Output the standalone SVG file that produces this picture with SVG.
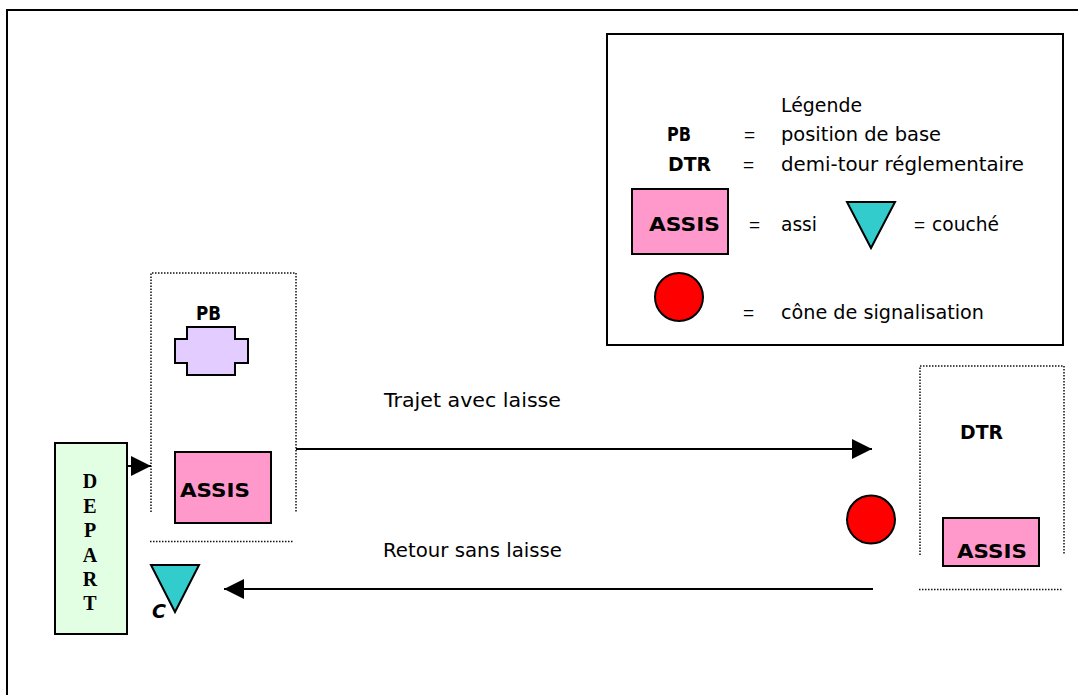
<svg xmlns="http://www.w3.org/2000/svg" width="1078" height="695" viewBox="0 0 1078 695">
<defs>
<marker id="ah" markerUnits="userSpaceOnUse" markerWidth="20" markerHeight="20" refX="20" refY="10" orient="auto"><path d="M0,0 L20,10 L0,20 Z" fill="#000"/></marker>
</defs>
<style>
.c{font-family:"DejaVu Sans",sans-serif;font-size:19px;fill:#000}
.b{font-family:"DejaVu Sans",sans-serif;font-weight:bold;font-size:19px;fill:#000}
.e{font-family:"Liberation Sans",sans-serif;font-size:19px;fill:#000}
.d{font-family:"Liberation Serif",serif;font-weight:bold;font-size:20px;fill:#000;text-anchor:middle}
.s{stroke:#000;stroke-width:2}
.p{fill:#ff99cc}.g{fill:#33cccc}.r{fill:#ff0000}
.dot{fill:none;stroke:#111;stroke-width:1.500;stroke-dasharray:1.500 1.500}
.ln{fill:none;stroke:#000;stroke-width:2}
</style>
<rect width="1078" height="695" fill="#fff"/>
<rect id="frame" x="7" y="10" width="1090" height="710" fill="none" stroke="#000" stroke-width="2"/>
<g id="legend">
<rect x="607" y="34" width="456" height="311" fill="#fff" class="s"/>
<text class="c" x="781" y="112" textLength="81" lengthAdjust="spacingAndGlyphs">Légende</text>
<text class="b" x="667" y="141" textLength="24" lengthAdjust="spacingAndGlyphs">PB</text><text class="e" x="744" y="141">=</text><text class="c" x="781" y="141" textLength="160" lengthAdjust="spacingAndGlyphs">position de base</text>
<text class="b" x="668" y="171" textLength="43" lengthAdjust="spacingAndGlyphs">DTR</text><text class="e" x="743" y="171">=</text><text class="c" x="781" y="171" textLength="243" lengthAdjust="spacingAndGlyphs">demi-tour réglementaire</text>
<rect x="632" y="189" width="96" height="65" class="p s"/>
<text class="b" x="649" y="231" textLength="71" lengthAdjust="spacingAndGlyphs">ASSIS</text><text class="e" x="749" y="231">=</text><text class="c" x="781" y="231" textLength="36" lengthAdjust="spacingAndGlyphs">assi</text>
<path d="M847,202 L895,202 L871,248 Z" class="g s"/>
<text y="231"><tspan class="e" x="914">=</tspan> <tspan class="c" x="932" textLength="67" lengthAdjust="spacingAndGlyphs">couché</tspan></text>
<circle cx="679" cy="297" r="24" class="r s"/>
<text class="e" x="743" y="319">=</text><text class="c" x="781" y="319" textLength="203" lengthAdjust="spacingAndGlyphs">cône de signalisation</text>
</g>
<g id="depart">
<rect x="55" y="443" width="72" height="191" fill="#e3ffe3" class="s"/>
<text class="d" x="90" y="488">D</text><text class="d" x="90" y="513">E</text><text class="d" x="90" y="537">P</text><text class="d" x="90" y="562">A</text><text class="d" x="90" y="586">R</text><text class="d" x="90" y="610">T</text>
</g>
<g id="zone-pb">
<path d="M151,512 V273 H296 V513 M150,541.500 H294" class="dot"/>
<text class="b" x="196" y="320" textLength="25" lengthAdjust="spacingAndGlyphs">PB</text>
<path d="M187,327 H235 V339 H248 V363 H235 V375 H187 V363 H175 V339 H187 Z" fill="#e3ccff" class="s"/>
<rect x="175" y="452" width="96" height="71" class="p s"/>
<text class="b" x="180" y="497" textLength="70" lengthAdjust="spacingAndGlyphs">ASSIS</text>
</g>
<g id="couche">
<path d="M151,565 L199,565 L175,612 Z" class="g s"/>
<text class="b" x="152" y="618" font-style="italic">C</text>
</g>
<g id="zone-dtr">
<path d="M920,555 V366 H1064 V555 M919,589.500 H1063" class="dot"/>
<text class="b" x="960" y="439" textLength="43" lengthAdjust="spacingAndGlyphs">DTR</text>
<rect x="943" y="518" width="96" height="48" class="p s"/>
<text class="b" x="957" y="558" textLength="70" lengthAdjust="spacingAndGlyphs">ASSIS</text>
</g>
<g id="cone"><circle cx="871" cy="519.500" r="24" class="r s"/></g>
<g id="connectors">
<path d="M127,466 H151" class="ln" marker-end="url(#ah)"/>
<path d="M296,449 H872" class="ln" marker-end="url(#ah)"/>
<path d="M873,589 H224" class="ln" marker-end="url(#ah)"/>
</g>
<g id="labels">
<text class="c" x="384" y="407" textLength="177" lengthAdjust="spacingAndGlyphs">Trajet avec laisse</text>
<text class="c" x="383" y="557" textLength="179" lengthAdjust="spacingAndGlyphs">Retour sans laisse</text>
</g>
</svg>
